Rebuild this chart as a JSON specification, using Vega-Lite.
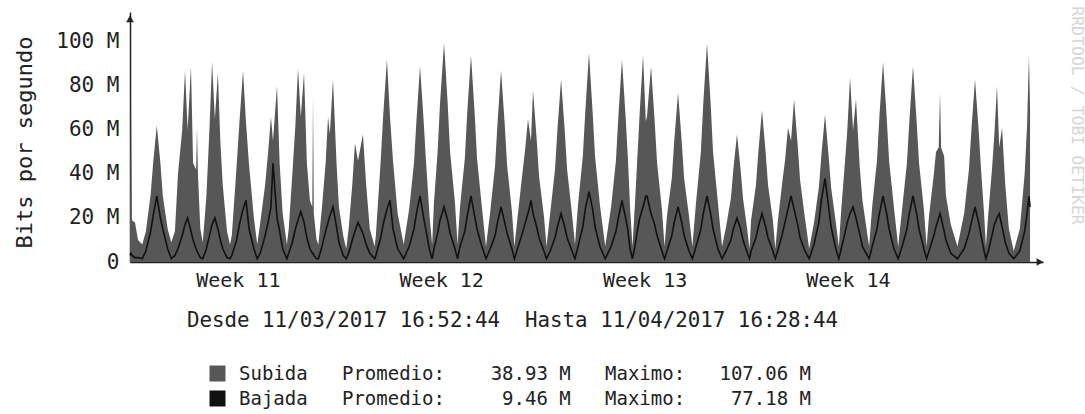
{
"$schema": "https://vega.github.io/schema/vega-lite/v6.json",
"width": 913, "height": 250,
"autosize": {"type": "none"},
"padding": {"left": 130, "top": 12, "right": 42, "bottom": 152},
"background": "white",
"config": {"view": {"stroke": null}, "font": "DejaVu Sans Mono"},
"datasets": {
"trafico": [
{"t":"2017-03-11T16:53","sub":19,"baj":3},
{"t":"2017-03-11T17:40","sub":80,"baj":4},
{"t":"2017-03-11T18:30","sub":19,"baj":3},
{"t":"2017-03-11T21:00","sub":18,"baj":2},
{"t":"2017-03-11T23:30","sub":10,"baj":2},
{"t":"2017-03-12T03:00","sub":8,"baj":1.5},
{"t":"2017-03-12T06:00","sub":14,"baj":5},
{"t":"2017-03-12T10:00","sub":31,"baj":14},
{"t":"2017-03-12T12:00","sub":45,"baj":21},
{"t":"2017-03-12T15:00","sub":62,"baj":30},
{"t":"2017-03-12T18:00","sub":45,"baj":20},
{"t":"2017-03-12T20:00","sub":30,"baj":15},
{"t":"2017-03-13T00:00","sub":15,"baj":6},
{"t":"2017-03-13T03:00","sub":9,"baj":1.5},
{"t":"2017-03-13T06:00","sub":14,"baj":3},
{"t":"2017-03-13T08:30","sub":40,"baj":6},
{"t":"2017-03-13T12:00","sub":60,"baj":12},
{"t":"2017-03-13T14:20","sub":87,"baj":17},
{"t":"2017-03-13T16:30","sub":60,"baj":20},
{"t":"2017-03-13T19:15","sub":89,"baj":14},
{"t":"2017-03-13T21:00","sub":45,"baj":10},
{"t":"2017-03-13T23:30","sub":42,"baj":6},
{"t":"2017-03-14T00:15","sub":61,"baj":5},
{"t":"2017-03-14T01:00","sub":40,"baj":4},
{"t":"2017-03-14T03:00","sub":15,"baj":2},
{"t":"2017-03-14T05:00","sub":9,"baj":1.5},
{"t":"2017-03-14T08:00","sub":30,"baj":6},
{"t":"2017-03-14T10:30","sub":60,"baj":12},
{"t":"2017-03-14T12:40","sub":91,"baj":17},
{"t":"2017-03-14T15:00","sub":65,"baj":20},
{"t":"2017-03-14T17:30","sub":86,"baj":15},
{"t":"2017-03-14T19:30","sub":55,"baj":10},
{"t":"2017-03-14T21:30","sub":35,"baj":6},
{"t":"2017-03-15T01:00","sub":14,"baj":2},
{"t":"2017-03-15T03:30","sub":8,"baj":1.5},
{"t":"2017-03-15T05:00","sub":12,"baj":3},
{"t":"2017-03-15T09:00","sub":44,"baj":10},
{"t":"2017-03-15T11:15","sub":63,"baj":17},
{"t":"2017-03-15T14:15","sub":87,"baj":24},
{"t":"2017-03-15T16:45","sub":63,"baj":28},
{"t":"2017-03-15T19:15","sub":44,"baj":15},
{"t":"2017-03-15T23:15","sub":20,"baj":6},
{"t":"2017-03-16T02:00","sub":8,"baj":1.5},
{"t":"2017-03-16T04:30","sub":18,"baj":4},
{"t":"2017-03-16T08:30","sub":35,"baj":12},
{"t":"2017-03-16T11:00","sub":50,"baj":18},
{"t":"2017-03-16T13:20","sub":66,"baj":25},
{"t":"2017-03-16T15:00","sub":55,"baj":45},
{"t":"2017-03-16T18:20","sub":80,"baj":20},
{"t":"2017-03-16T20:30","sub":45,"baj":14},
{"t":"2017-03-16T23:00","sub":22,"baj":6},
{"t":"2017-03-17T02:30","sub":8,"baj":1.5},
{"t":"2017-03-17T04:00","sub":15,"baj":4},
{"t":"2017-03-17T07:00","sub":40,"baj":9},
{"t":"2017-03-17T09:30","sub":62,"baj":15},
{"t":"2017-03-17T11:40","sub":88,"baj":19},
{"t":"2017-03-17T14:00","sub":66,"baj":23},
{"t":"2017-03-17T16:40","sub":86,"baj":18},
{"t":"2017-03-17T19:00","sub":45,"baj":11},
{"t":"2017-03-17T21:30","sub":28,"baj":6},
{"t":"2017-03-17T23:30","sub":25,"baj":4},
{"t":"2017-03-18T00:05","sub":76,"baj":4},
{"t":"2017-03-18T00:45","sub":22,"baj":3},
{"t":"2017-03-18T03:00","sub":10,"baj":1.5},
{"t":"2017-03-18T04:30","sub":8,"baj":1.5},
{"t":"2017-03-18T07:30","sub":25,"baj":7},
{"t":"2017-03-18T10:30","sub":45,"baj":14},
{"t":"2017-03-18T12:30","sub":66,"baj":18},
{"t":"2017-03-18T14:00","sub":58,"baj":21},
{"t":"2017-03-18T16:35","sub":83,"baj":25},
{"t":"2017-03-18T19:30","sub":45,"baj":16},
{"t":"2017-03-18T21:30","sub":25,"baj":9},
{"t":"2017-03-19T01:00","sub":12,"baj":3},
{"t":"2017-03-19T03:30","sub":6,"baj":1.5},
{"t":"2017-03-19T05:30","sub":15,"baj":4},
{"t":"2017-03-19T08:30","sub":35,"baj":10},
{"t":"2017-03-19T10:45","sub":54,"baj":14},
{"t":"2017-03-19T13:15","sub":46,"baj":18},
{"t":"2017-03-19T17:20","sub":58,"baj":13},
{"t":"2017-03-19T20:00","sub":35,"baj":8},
{"t":"2017-03-19T23:00","sub":15,"baj":4},
{"t":"2017-03-20T03:00","sub":7,"baj":1.5},
{"t":"2017-03-20T04:00","sub":12,"baj":3},
{"t":"2017-03-20T08:00","sub":46,"baj":11},
{"t":"2017-03-20T10:00","sub":66,"baj":17},
{"t":"2017-03-20T13:10","sub":92,"baj":24},
{"t":"2017-03-20T15:40","sub":66,"baj":28},
{"t":"2017-03-20T18:10","sub":46,"baj":15},
{"t":"2017-03-20T22:00","sub":22,"baj":6},
{"t":"2017-03-21T03:00","sub":8,"baj":1.5},
{"t":"2017-03-21T07:30","sub":24,"baj":7},
{"t":"2017-03-21T11:30","sub":45,"baj":15},
{"t":"2017-03-21T13:30","sub":64,"baj":22},
{"t":"2017-03-21T16:30","sub":89,"baj":30},
{"t":"2017-03-21T19:30","sub":64,"baj":20},
{"t":"2017-03-21T21:30","sub":45,"baj":14},
{"t":"2017-03-22T00:30","sub":20,"baj":5},
{"t":"2017-03-22T02:30","sub":8,"baj":1.5},
{"t":"2017-03-22T04:00","sub":27,"baj":6},
{"t":"2017-03-22T07:00","sub":50,"baj":13},
{"t":"2017-03-22T09:00","sub":72,"baj":19},
{"t":"2017-03-22T12:20","sub":99.5,"baj":25},
{"t":"2017-03-22T15:20","sub":72,"baj":19},
{"t":"2017-03-22T17:20","sub":50,"baj":13},
{"t":"2017-03-22T21:20","sub":27,"baj":6},
{"t":"2017-03-22T23:30","sub":8,"baj":1.5},
{"t":"2017-03-23T01:30","sub":25,"baj":7},
{"t":"2017-03-23T05:30","sub":47,"baj":14},
{"t":"2017-03-23T07:30","sub":68,"baj":21},
{"t":"2017-03-23T10:35","sub":94,"baj":30},
{"t":"2017-03-23T13:35","sub":68,"baj":21},
{"t":"2017-03-23T15:35","sub":47,"baj":15},
{"t":"2017-03-23T19:35","sub":25,"baj":7},
{"t":"2017-03-23T23:00","sub":7,"baj":1.5},
{"t":"2017-03-24T02:30","sub":23,"baj":6},
{"t":"2017-03-24T06:30","sub":44,"baj":12},
{"t":"2017-03-24T08:30","sub":63,"baj":18},
{"t":"2017-03-24T11:25","sub":87,"baj":25},
{"t":"2017-03-24T14:25","sub":63,"baj":18},
{"t":"2017-03-24T16:25","sub":44,"baj":13},
{"t":"2017-03-24T20:25","sub":23,"baj":6},
{"t":"2017-03-24T22:30","sub":7,"baj":1.5},
{"t":"2017-03-25T01:00","sub":20,"baj":6},
{"t":"2017-03-25T05:00","sub":40,"baj":13},
{"t":"2017-03-25T07:30","sub":52,"baj":18},
{"t":"2017-03-25T09:40","sub":65,"baj":22},
{"t":"2017-03-25T12:10","sub":55,"baj":28},
{"t":"2017-03-25T13:50","sub":78,"baj":22},
{"t":"2017-03-25T16:50","sub":56,"baj":16},
{"t":"2017-03-25T18:50","sub":39,"baj":11},
{"t":"2017-03-25T22:50","sub":21,"baj":5},
{"t":"2017-03-26T01:00","sub":7,"baj":1.5},
{"t":"2017-03-26T04:00","sub":22,"baj":5},
{"t":"2017-03-26T08:00","sub":42,"baj":11},
{"t":"2017-03-26T10:00","sub":60,"baj":16},
{"t":"2017-03-26T13:00","sub":83,"baj":22},
{"t":"2017-03-26T16:00","sub":60,"baj":16},
{"t":"2017-03-26T18:00","sub":42,"baj":11},
{"t":"2017-03-26T22:00","sub":22,"baj":5},
{"t":"2017-03-27T00:30","sub":8,"baj":1.5},
{"t":"2017-03-27T03:00","sub":26,"baj":7},
{"t":"2017-03-27T07:00","sub":48,"baj":16},
{"t":"2017-03-27T09:00","sub":68,"baj":24},
{"t":"2017-03-27T12:05","sub":95,"baj":32},
{"t":"2017-03-27T15:05","sub":68,"baj":24},
{"t":"2017-03-27T17:05","sub":48,"baj":16},
{"t":"2017-03-27T21:05","sub":26,"baj":7},
{"t":"2017-03-28T01:30","sub":7,"baj":1.5},
{"t":"2017-03-28T06:20","sub":25,"baj":7},
{"t":"2017-03-28T10:20","sub":46,"baj":14},
{"t":"2017-03-28T12:20","sub":66,"baj":20},
{"t":"2017-03-28T15:20","sub":92,"baj":28},
{"t":"2017-03-28T18:20","sub":66,"baj":20},
{"t":"2017-03-28T20:20","sub":46,"baj":14},
{"t":"2017-03-28T22:00","sub":25,"baj":6},
{"t":"2017-03-29T00:00","sub":7,"baj":1.5},
{"t":"2017-03-29T02:00","sub":26,"baj":7},
{"t":"2017-03-29T04:00","sub":47,"baj":14},
{"t":"2017-03-29T06:00","sub":68,"baj":20},
{"t":"2017-03-29T08:45","sub":94,"baj":25},
{"t":"2017-03-29T11:00","sub":64,"baj":30},
{"t":"2017-03-29T12:00","sub":66,"baj":30},
{"t":"2017-03-29T15:20","sub":89,"baj":22},
{"t":"2017-03-29T18:20","sub":64,"baj":17},
{"t":"2017-03-29T20:20","sub":45,"baj":12},
{"t":"2017-03-30T00:20","sub":24,"baj":5},
{"t":"2017-03-30T02:30","sub":7,"baj":1.5},
{"t":"2017-03-30T04:30","sub":21,"baj":5},
{"t":"2017-03-30T08:30","sub":38,"baj":12},
{"t":"2017-03-30T10:30","sub":55,"baj":18},
{"t":"2017-03-30T13:40","sub":77,"baj":25},
{"t":"2017-03-30T16:40","sub":55,"baj":18},
{"t":"2017-03-30T18:40","sub":38,"baj":12},
{"t":"2017-03-30T22:40","sub":21,"baj":5},
{"t":"2017-03-31T01:30","sub":7,"baj":1.5},
{"t":"2017-03-31T04:30","sub":27,"baj":7},
{"t":"2017-03-31T08:30","sub":50,"baj":15},
{"t":"2017-03-31T10:30","sub":72,"baj":22},
{"t":"2017-03-31T13:35","sub":99.5,"baj":30},
{"t":"2017-03-31T16:35","sub":72,"baj":22},
{"t":"2017-03-31T18:35","sub":50,"baj":15},
{"t":"2017-03-31T22:35","sub":27,"baj":6},
{"t":"2017-04-01T02:00","sub":7,"baj":1.5},
{"t":"2017-04-01T05:20","sub":16,"baj":5},
{"t":"2017-04-01T09:20","sub":29,"baj":10},
{"t":"2017-04-01T11:20","sub":42,"baj":15},
{"t":"2017-04-01T14:20","sub":58,"baj":20},
{"t":"2017-04-01T17:20","sub":42,"baj":15},
{"t":"2017-04-01T19:20","sub":29,"baj":10},
{"t":"2017-04-01T23:00","sub":14,"baj":4},
{"t":"2017-04-02T00:40","sub":6,"baj":1.5},
{"t":"2017-04-02T02:00","sub":19,"baj":5},
{"t":"2017-04-02T06:00","sub":35,"baj":11},
{"t":"2017-04-02T08:00","sub":50,"baj":16},
{"t":"2017-04-02T11:00","sub":69,"baj":22},
{"t":"2017-04-02T14:00","sub":50,"baj":16},
{"t":"2017-04-02T16:00","sub":35,"baj":11},
{"t":"2017-04-02T20:00","sub":19,"baj":5},
{"t":"2017-04-02T22:00","sub":6,"baj":1.5},
{"t":"2017-04-03T00:00","sub":18,"baj":5},
{"t":"2017-04-03T03:30","sub":35,"baj":12},
{"t":"2017-04-03T06:00","sub":46,"baj":18},
{"t":"2017-04-03T08:30","sub":61,"baj":24},
{"t":"2017-04-03T11:00","sub":55,"baj":30},
{"t":"2017-04-03T13:30","sub":74,"baj":24},
{"t":"2017-04-03T16:30","sub":53,"baj":17},
{"t":"2017-04-03T18:30","sub":37,"baj":11},
{"t":"2017-04-03T22:30","sub":20,"baj":5},
{"t":"2017-04-04T02:00","sub":6,"baj":1.5},
{"t":"2017-04-04T06:00","sub":18,"baj":8},
{"t":"2017-04-04T10:00","sub":34,"baj":18},
{"t":"2017-04-04T12:00","sub":48,"baj":28},
{"t":"2017-04-04T15:05","sub":67,"baj":38},
{"t":"2017-04-04T18:05","sub":48,"baj":25},
{"t":"2017-04-04T20:05","sub":34,"baj":16},
{"t":"2017-04-05T00:00","sub":18,"baj":6},
{"t":"2017-04-05T02:30","sub":7,"baj":1.5},
{"t":"2017-04-05T04:30","sub":24,"baj":6},
{"t":"2017-04-05T07:30","sub":45,"baj":13},
{"t":"2017-04-05T09:30","sub":60,"baj":18},
{"t":"2017-04-05T11:45","sub":84,"baj":22},
{"t":"2017-04-05T14:15","sub":60,"baj":25},
{"t":"2017-04-05T16:40","sub":74,"baj":20},
{"t":"2017-04-05T19:40","sub":44,"baj":13},
{"t":"2017-04-05T22:00","sub":28,"baj":7},
{"t":"2017-04-06T03:30","sub":7,"baj":1.5},
{"t":"2017-04-06T06:00","sub":25,"baj":7},
{"t":"2017-04-06T10:00","sub":46,"baj":15},
{"t":"2017-04-06T12:00","sub":66,"baj":22},
{"t":"2017-04-06T15:00","sub":91,"baj":30},
{"t":"2017-04-06T18:00","sub":66,"baj":22},
{"t":"2017-04-06T20:00","sub":46,"baj":15},
{"t":"2017-04-07T00:00","sub":25,"baj":6},
{"t":"2017-04-07T03:30","sub":7,"baj":1.5},
{"t":"2017-04-07T06:45","sub":24,"baj":7},
{"t":"2017-04-07T10:45","sub":45,"baj":15},
{"t":"2017-04-07T12:45","sub":64,"baj":22},
{"t":"2017-04-07T15:45","sub":89,"baj":30},
{"t":"2017-04-07T18:45","sub":64,"baj":22},
{"t":"2017-04-07T20:45","sub":45,"baj":15},
{"t":"2017-04-08T00:45","sub":24,"baj":6},
{"t":"2017-04-08T03:00","sub":7,"baj":1.5},
{"t":"2017-04-08T05:00","sub":21,"baj":5},
{"t":"2017-04-08T09:00","sub":40,"baj":12},
{"t":"2017-04-08T10:45","sub":50,"baj":16},
{"t":"2017-04-08T13:00","sub":52,"baj":20},
{"t":"2017-04-08T14:05","sub":77,"baj":22},
{"t":"2017-04-08T15:00","sub":52,"baj":20},
{"t":"2017-04-08T17:30","sub":48,"baj":14},
{"t":"2017-04-08T19:00","sub":30,"baj":10},
{"t":"2017-04-08T23:00","sub":17,"baj":4},
{"t":"2017-04-09T04:30","sub":7,"baj":1.5},
{"t":"2017-04-09T10:00","sub":22,"baj":6},
{"t":"2017-04-09T14:00","sub":42,"baj":13},
{"t":"2017-04-09T16:00","sub":60,"baj":18},
{"t":"2017-04-09T19:00","sub":83,"baj":25},
{"t":"2017-04-09T22:00","sub":60,"baj":18},
{"t":"2017-04-10T00:00","sub":42,"baj":12},
{"t":"2017-04-10T02:30","sub":22,"baj":5},
{"t":"2017-04-10T04:00","sub":7,"baj":1.5},
{"t":"2017-04-10T06:00","sub":22,"baj":5},
{"t":"2017-04-10T09:00","sub":42,"baj":12},
{"t":"2017-04-10T11:00","sub":58,"baj":17},
{"t":"2017-04-10T13:10","sub":80,"baj":20},
{"t":"2017-04-10T15:00","sub":52,"baj":22},
{"t":"2017-04-10T17:20","sub":61,"baj":16},
{"t":"2017-04-10T20:00","sub":35,"baj":9},
{"t":"2017-04-10T23:00","sub":15,"baj":4},
{"t":"2017-04-11T03:00","sub":5,"baj":1.5},
{"t":"2017-04-11T08:00","sub":15,"baj":5},
{"t":"2017-04-11T12:00","sub":40,"baj":14},
{"t":"2017-04-11T14:00","sub":62,"baj":22},
{"t":"2017-04-11T15:35","sub":94,"baj":30},
{"t":"2017-04-11T16:28","sub":70,"baj":25}
],
"flechas": [
{"t":"2017-03-11T16:52:44","v":110.5,"eje":"y"},
{"t":"2017-04-12T00:40","v":0,"eje":"x"}
]
},
"layer": [
{
"data": {"name": "trafico"},
"mark": {"type": "area", "interpolate": "linear", "opacity": 1},
"encoding": {
"x": {"field": "t", "type": "temporal",
"scale": {"domain": [{"year": 2017, "month": 3, "date": 11, "hours": 16, "minutes": 52, "seconds": 44}, {"year": 2017, "month": 4, "date": 12, "hours": 3, "minutes": 10}]},
"axis": {"orient": "bottom",
"values": [{"year": 2017, "month": 3, "date": 15, "hours": 10}, {"year": 2017, "month": 3, "date": 22, "hours": 10}, {"year": 2017, "month": 3, "date": 29, "hours": 10}, {"year": 2017, "month": 4, "date": 5, "hours": 10}],
"format": "Week %V", "labelFont": "DejaVu Sans Mono", "labelFontSize": 20, "labelColor": "#222", "labelPadding": 8, "labelFlush": false, "labelOverlap": false,
"ticks": false, "grid": false, "domainColor": "#222", "domainWidth": 1.5,
"title": "Desde 11/03/2017 16:52:44\u00a0\u00a0Hasta 11/04/2017 16:28:44",
"titleFont": "DejaVu Sans Mono", "titleFontSize": 20.8, "titleFontWeight": "normal", "titleColor": "#222",
"titleX": 382, "titleY": 58, "titleBaseline": "middle", "titleAlign": "center"}},
"y": {"field": "sub", "type": "quantitative",
"scale": {"domain": [0, 113.6], "nice": false, "zero": true},
"axis": {"orient": "left", "title": "Bits por segundo", "values": [0, 20, 40, 60, 80, 100],
"labelExpr": "datum.value == 0 ? '0\u00a0\u00a0' : datum.value + '\u00a0M'",
"labelFont": "DejaVu Sans Mono", "labelFontSize": 21, "labelColor": "#222", "labelPadding": 11, "labelBaseline": "middle",
"ticks": false, "grid": false, "domainColor": "#222", "domainWidth": 1.5,
"titleFont": "DejaVu Sans Mono", "titleFontSize": 22, "titleFontWeight": "normal", "titleColor": "#222",
"titleX": -106, "titleY": 130, "titleAngle": -90, "titleBaseline": "middle", "titleAlign": "center"}},
"color": {"datum": "Subida",
"scale": {"domain": ["Subida", "Bajada"], "range": ["#575757", "#111111"]},
"legend": {"orient": "none", "legendX": 78, "legendY": 352, "direction": "vertical", "title": null,
"symbolType": "square", "symbolSize": 256, "symbolStrokeWidth": 0, "symbolOpacity": 1,
"labelFont": "DejaVu Sans Mono", "labelFontSize": 19, "labelColor": "#222", "labelOffset": 12, "labelLimit": 900,
"rowPadding": 5, "padding": 0,
"labelExpr": "datum.label == 'Subida' ? 'Subida\u00a0\u00a0\u00a0Promedio:\u00a0\u00a0\u00a0\u00a038.93\u00a0M\u00a0\u00a0\u00a0Maximo:\u00a0\u00a0\u00a0107.06\u00a0M' : 'Bajada\u00a0\u00a0\u00a0Promedio:\u00a0\u00a0\u00a0\u00a0\u00a09.46\u00a0M\u00a0\u00a0\u00a0Maximo:\u00a0\u00a0\u00a0\u00a077.18\u00a0M'"}}
}
},
{
"data": {"name": "trafico"},
"mark": {"type": "line", "interpolate": "linear", "strokeWidth": 1.6},
"encoding": {
"x": {"field": "t", "type": "temporal",
"scale": {"domain": [{"year": 2017, "month": 3, "date": 11, "hours": 16, "minutes": 52, "seconds": 44}, {"year": 2017, "month": 4, "date": 12, "hours": 3, "minutes": 10}]}},
"y": {"field": "baj", "type": "quantitative", "scale": {"domain": [0, 113.6], "nice": false, "zero": true}, "axis": null},
"color": {"datum": "Bajada"}
}
},
{
"data": {"name": "flechas"},
"mark": {"type": "point", "filled": true, "opacity": 1, "size": 60, "color": "#222"},
"encoding": {
"x": {"field": "t", "type": "temporal",
"scale": {"domain": [{"year": 2017, "month": 3, "date": 11, "hours": 16, "minutes": 52, "seconds": 44}, {"year": 2017, "month": 4, "date": 12, "hours": 3, "minutes": 10}]}},
"y": {"field": "v", "type": "quantitative", "scale": {"domain": [0, 113.6], "nice": false, "zero": true},
"axis": {"orient": "right", "title": "RRDTOOL / TOBI OETIKER", "labels": false, "ticks": false, "domain": false, "grid": false,
"titleAngle": 90, "titleX": 33, "titleY": 103, "titleBaseline": "middle", "titleAlign": "center",
"titleFont": "DejaVu Sans Mono", "titleFontSize": 16.5, "titleFontWeight": "normal", "titleColor": "#d6d6d6"}},
"shape": {"field": "eje", "type": "nominal", "scale": {"domain": ["y", "x"], "range": ["triangle-up", "triangle-right"]}, "legend": null}
}
}
],
"resolve": {"scale": {"y": "independent"}, "axis": {"y": "independent"}}
}
